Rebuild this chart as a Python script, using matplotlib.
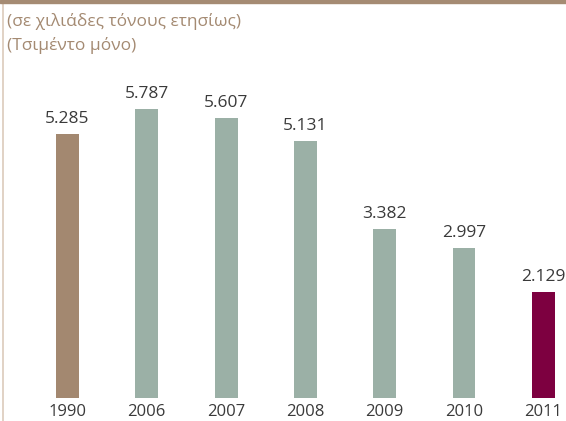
import matplotlib.pyplot as plt
from matplotlib.lines import Line2D
from matplotlib.patches import Rectangle

years = ["1990", "2006", "2007", "2008", "2009", "2010", "2011"]
values = [5.285, 5.787, 5.607, 5.131, 3.382, 2.997, 2.129]
labels = ["5.285", "5.787", "5.607", "5.131", "3.382", "2.997", "2.129"]
bar_colors = ["#a38870", "#9bb0a6", "#9bb0a6", "#9bb0a6", "#9bb0a6", "#9bb0a6", "#7d0040"]

W, H = 566, 421
fig = plt.figure(figsize=(W / 100, H / 100), dpi=100)
fig.patch.set_facecolor("white")

# axes: bottom at y=398 px, 50 px per thousand tonnes
ax = fig.add_axes([0, 23 / H, 1, 398 / H])
step = 79.3
x0 = 67.5
ax.set_xlim(-x0 / step, (W - x0) / step)
ax.set_ylim(0, 398 / 50)

xs = list(range(len(years)))
ax.bar(xs, values, width=0.29, color=bar_colors, edgecolor="none")
for x, v, lab in zip(xs, values, labels):
    ax.text(x, v + 0.14, lab, ha="center", va="bottom", fontsize=12.5,
            color="#3a3a3a", family="Open Sans")

ax.set_xticks(xs)
ax.set_xticklabels(years, fontsize=12, color="#3a3a3a", family="Open Sans")
ax.tick_params(axis="x", length=0, pad=4)
ax.set_yticks([])
for s in ax.spines.values():
    s.set_visible(False)
ax.patch.set_alpha(0)

# top band and left rule
fig.patches.append(Rectangle((0, 1 - 3 / H), 1, 3 / H, transform=fig.transFigure,
                             color="#a58b73", zorder=5))
fig.lines.append(Line2D([2.5 / W, 2.5 / W], [0, 1], transform=fig.transFigure,
                        color="#dccbbb", lw=1.2))

title_color = "#a48a72"
fig.text(7 / W, 1 - 21 / H, "(σε χιλιάδες τόνους ετησίως)", fontsize=12.5,
         color=title_color, family="Open Sans", va="center", ha="left")
fig.text(7 / W, 1 - 45 / H, "(Τσιμέντο μόνο)", fontsize=12.5,
         color=title_color, family="Open Sans", va="center", ha="left")

fig.savefig("out.png", dpi=100)
